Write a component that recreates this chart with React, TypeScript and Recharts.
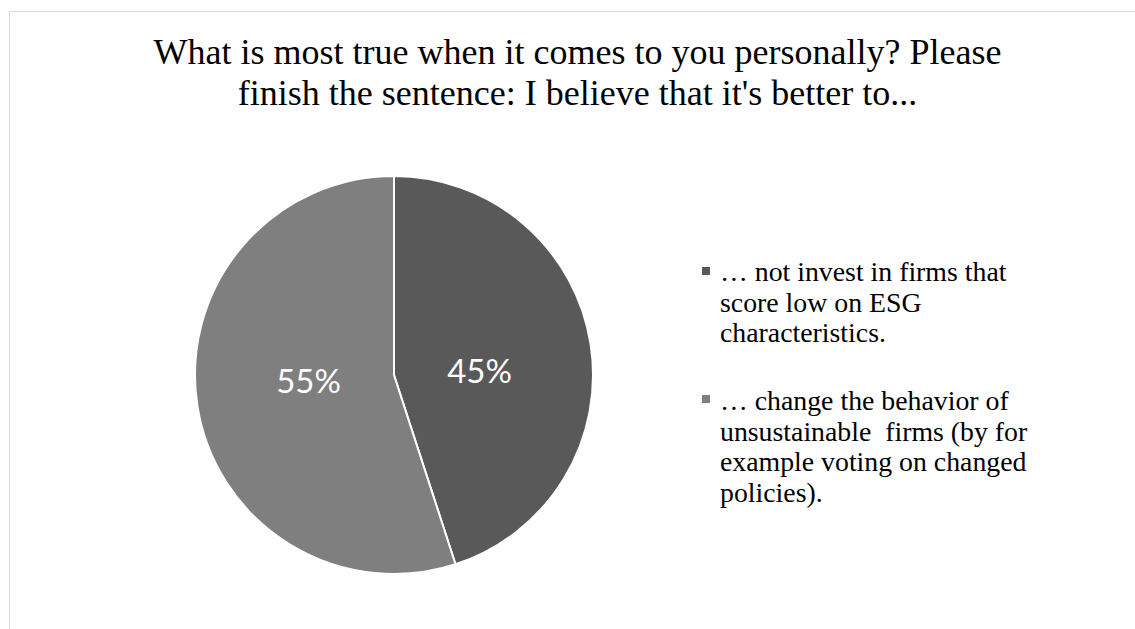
import { PieChart, Pie, Cell, Legend } from "recharts";

const answers = [
  "… not invest in firms that score low on ESG characteristics.",
  "… change the behavior of unsustainable firms (by for example voting on changed policies).",
];
const shares = [45, 55];
const answerLines = [
  ["… not invest in firms that", "score low on ESG", "characteristics."],
  ["… change the behavior of", "unsustainable  firms (by for", "example voting on changed", "policies)."],
];
const titleLines = [
  "What is most true when it comes to you personally? Please",
  "finish the sentence: I believe that it's better to...",
];
const sliceColors = ["#595959", "#7f7f7f"];

const data = answers.map((name, i) => ({ name, value: shares[i] }));

const RAD = Math.PI / 180;

function SliceLabel(props: any) {
  const { cx, cy, midAngle, outerRadius, value } = props;
  const r = outerRadius * 0.435;
  const x = cx + r * Math.cos(-midAngle * RAD);
  const y = cy + 0.35 * r * Math.sin(-midAngle * RAD);
  return (
    <text
      x={x}
      y={y}
      fill="#ffffff"
      textAnchor="middle"
      dominantBaseline="central"
      fontFamily="Lato, 'Open Sans', sans-serif"
      fontSize={33}
    >
      {`${value}%`}
    </text>
  );
}

// legend box origin, page coordinates (body margin is removed below)
const LX = 698;
const LY = 248;

function AnswerLegend() {
  const firstBaselines = [281, 410];
  const markerTops = [267, 395];
  return (
    <svg width={425} height={280} style={{ display: "block" }}>
      {answerLines.map((lines, i) => (
        <g key={i}>
          <rect x={702 - LX} y={markerTops[i] - LY} width={8} height={8} fill={sliceColors[i]} />
          <text
            fontFamily="'Liberation Serif', 'Times New Roman', serif"
            fontSize={27.8}
            fill="#000"
            style={{ whiteSpace: "pre" }}
          >
            {lines.map((line, j) => (
              <tspan key={j} x={720 - LX} y={firstBaselines[i] - LY + j * 30.5}>
                {line}
              </tspan>
            ))}
          </text>
        </g>
      ))}
    </svg>
  );
}

export default function App() {
  return (
    <div style={{ position: "relative", width: 1135, height: 629, background: "#fff", overflow: "hidden" }}>
      <style>{`body { margin: 0; overflow: hidden; }`}</style>
      <div
        style={{
          position: "absolute",
          left: 9,
          top: 11,
          width: 1130,
          height: 630,
          borderTop: "1px solid #d9d9d9",
          borderLeft: "1px solid #d9d9d9",
        }}
      />
      <svg width={1135} height={130} style={{ position: "absolute", left: 0, top: 0 }}>
        <text
          textAnchor="middle"
          fontFamily="'Liberation Serif', 'Times New Roman', serif"
          fontSize={36}
          fill="#000"
        >
          {titleLines.map((line, i) => (
            <tspan key={i} x={577.5} y={63.5 + i * 41}>
              {line}
            </tspan>
          ))}
        </text>
      </svg>
      <div style={{ position: "absolute", left: 0, top: 0 }}>
        <PieChart width={1135} height={629} margin={{ top: 0, right: 0, bottom: 0, left: 0 }}>
          <Pie
            data={data}
            dataKey="value"
            nameKey="name"
            cx={394}
            cy={375}
            outerRadius={199}
            startAngle={90}
            endAngle={-270}
            stroke="#ffffff"
            strokeWidth={2}
            label={SliceLabel}
            labelLine={false}
            isAnimationActive={false}
          >
            {data.map((entry, index) => (
              <Cell key={`cell-${index}`} fill={sliceColors[index]} />
            ))}
          </Pie>
          <Legend
            content={() => <AnswerLegend />}
            wrapperStyle={{ left: LX, top: LY, width: 425, height: 280 }}
          />
        </PieChart>
      </div>
    </div>
  );
}
